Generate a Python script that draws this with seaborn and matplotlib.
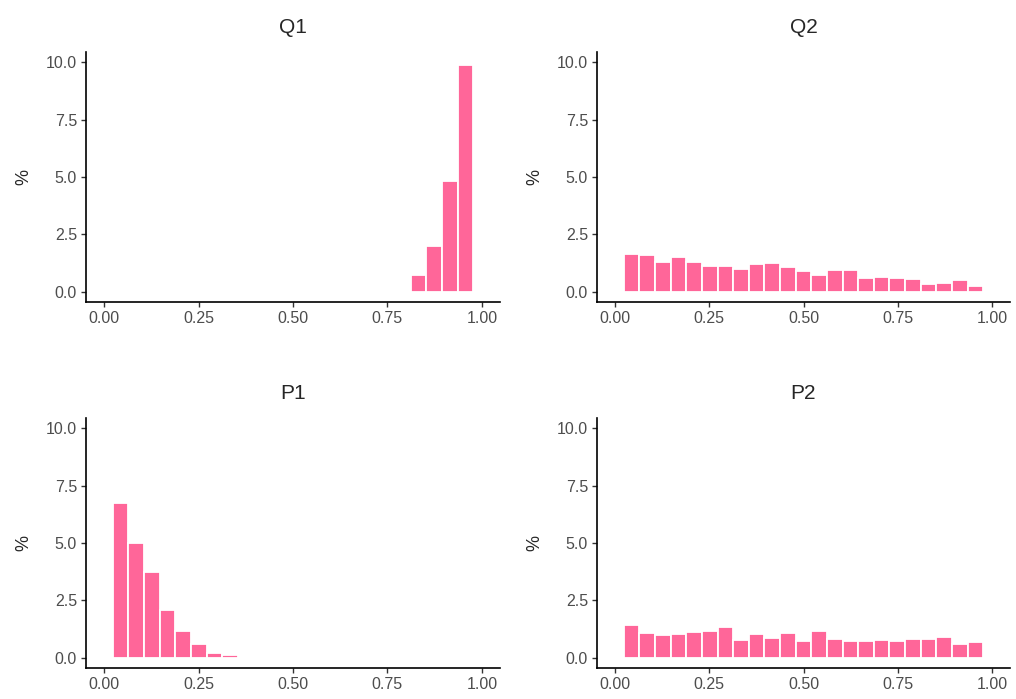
import numpy as np
import pandas as pd
import seaborn as sns
import matplotlib.pyplot as plt

# bin heights in % (23 bins between ~0.023 and ~0.977)
q1_bins = [19, 20, 21, 22]
q1_pct = [0.72, 1.99, 4.82, 9.88]
q2_pct = [1.64, 1.60, 1.29, 1.53, 1.29, 1.13, 1.13, 0.99, 1.19, 1.25, 1.06, 0.89,
          0.74, 0.95, 0.93, 0.58, 0.65, 0.60, 0.55, 0.32, 0.39, 0.52, 0.26]
p1_pct = [6.75, 5.02, 3.72, 2.08, 1.15, 0.58, 0.22, 0.10]
p2_pct = [1.43, 1.07, 0.98, 1.03, 1.12, 1.18, 1.35, 0.77, 1.03, 0.86, 1.07, 0.74,
          1.18, 0.83, 0.72, 0.72, 0.77, 0.72, 0.81, 0.83, 0.92, 0.58, 0.67]
titles = ["Q1", "Q2", "P1", "P2"]
x_ticks = [0.0, 0.25, 0.5, 0.75, 1.0]
y_ticks = [0.0, 2.5, 5.0, 7.5, 10.0]

edges = np.linspace(0.023, 0.977, 24)
centers = (edges[:-1] + edges[1:]) / 2

sns.set_style("ticks")
plt.rcParams['font.family'] = ['Liberation Sans', 'DejaVu Sans']

fig = plt.figure(figsize=(10.16, 6.99), dpi=100)
W, H = 1016, 699
# pixel boxes: left, top, right, bottom
boxes = [(86, 52, 500, 302), (597, 52, 1010, 302),
         (86, 418, 500, 668), (597, 418, 1010, 668)]
data = [(centers[q1_bins], q1_pct),
        (centers, q2_pct),
        (centers[:len(p1_pct)], p1_pct),
        (centers, p2_pct)]
pink = "#FF6699"

for (l, t, r, b), (xs, ws), title in zip(boxes, data, titles):
    ax = fig.add_axes([l / W, (H - b) / H, (r - l) / W, (b - t) / H])
    df = pd.DataFrame({"x": xs, "pct": ws})
    sns.histplot(data=df, x="x", weights="pct", bins=list(edges), ax=ax, color=pink,
                 alpha=1, edgecolor="white", linewidth=1.3)
    ax.set_xlim(-0.048, 1.048)
    ax.set_ylim(-0.45, 10.45)
    ax.set_xticks(x_ticks)
    ax.set_xticklabels(["0.00", "0.25", "0.50", "0.75", "1.00"])
    ax.set_yticks(y_ticks)
    ax.set_yticklabels(["0.0", "2.5", "5.0", "7.5", "10.0"])
    ax.tick_params(labelsize=11.5, labelcolor="#4d4d4d", length=3.5, width=1,
                   color="#333333", pad=3)
    ax.set_xlabel("")
    ax.set_ylabel("%", fontsize=13, labelpad=10)
    ax.set_title(title, fontsize=15, pad=14)
    sns.despine(ax=ax)
    for s in ["left", "bottom"]:
        ax.spines[s].set_linewidth(1.2)
        ax.spines[s].set_color("black")

fig.savefig("out.png", dpi=100)
